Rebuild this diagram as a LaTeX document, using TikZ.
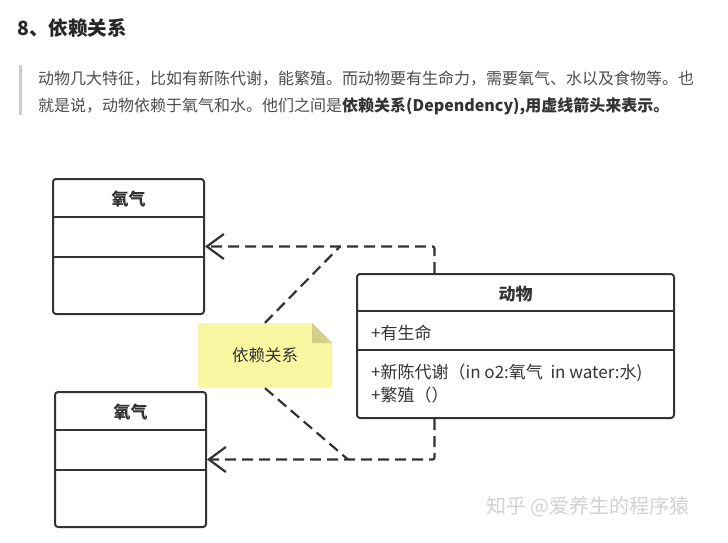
\documentclass[tikz,border=0pt]{standalone}
\usepackage{fontspec}
\setmainfont{Noto Sans CJK SC}
\usetikzlibrary{arrows.meta}
\definecolor{ink}{HTML}{333333}
\definecolor{para}{HTML}{4D4D4D}
\definecolor{notefill}{HTML}{FAF7A2}
\definecolor{notefold}{HTML}{D3CF86}
\tikzset{
  cls/.style={draw=ink, line width=2pt, rounded corners=3pt, inner sep=0pt},
  sep/.style={draw=ink, line width=2pt},
  link/.style={draw=ink, line width=2.2pt, dash pattern=on 11pt off 6pt},
  dep/.style={link, rounded corners=2pt, -{Straight Barb[length=17pt,width=25pt]}},
  txt/.style={text=ink, inner sep=0pt, font=\fontsize{17}{20}\selectfont},
  head/.style={txt, font=\fontsize{17}{20}\selectfont\bfseries},
  para/.style={text=para, inner sep=0pt, anchor=west, font=\fontsize{16}{18}\selectfont},
}
\begin{document}
\begin{tikzpicture}[x=1pt,y=-1pt]
  \useasboundingbox[fill=white] (0,0) rectangle (728,543);
  \node[txt, anchor=west, font=\fontsize{19.5}{22}\selectfont\bfseries, text=black!85] (title) at (17,28) {8、依赖关系};
  \fill[black!20] (19,65) rectangle (22,115);
  \node[para] (line1) at (38,79) {动物几大特征，比如有新陈代谢，能繁殖。而动物要有生命力，需要氧气、水以及食物等。也};
  \node[para] (line2) at (38,106) {就是说，动物依赖于氧气和水。他们之间是\textcolor{ink}{\bfseries 依赖关系(Dependency),用虚线箭头来表示。}};

  \node[cls, minimum width=151pt, minimum height=135pt] (o2a) at (128.5,246.5) {};
  \node[head] (o2a-name) at (128.5,199) {氧气};
  \draw[sep] ([yshift=-39pt]o2a.north west) -- ([yshift=-39pt]o2a.north east);
  \draw[sep] ([yshift=-79pt]o2a.north west) -- ([yshift=-79pt]o2a.north east);

  \node[cls, minimum width=151pt, minimum height=135pt] (o2b) at (130.5,459.5) {};
  \node[head] (o2b-name) at (130.5,412) {氧气};
  \draw[sep] ([yshift=-39pt]o2b.north west) -- ([yshift=-39pt]o2b.north east);
  \draw[sep] ([yshift=-79pt]o2b.north west) -- ([yshift=-79pt]o2b.north east);

  \node[cls, minimum width=317pt, minimum height=144pt] (animal) at (515.5,346) {};
  \node[head] (animal-name) at (515.5,294) {动物};
  \draw[sep] ([yshift=-38pt]animal.north west) -- ([yshift=-38pt]animal.north east);
  \draw[sep] ([yshift=-77pt]animal.north west) -- ([yshift=-77pt]animal.north east);
  \node[txt, anchor=west] (attr) at (371,333) {+有生命};
  \node[txt, anchor=west] (op1) at (371,373) {+新陈代谢（in o2:氧气\ \ in water:水)};
  \node[txt, anchor=west] (op2) at (371,395) {+繁殖（）};

  \node[txt, font=\fontsize{16.5}{19}\selectfont, minimum width=134pt, minimum height=65pt, path picture={
      \fill[notefill] (path picture bounding box.south west) -- (path picture bounding box.north west)
        -- ([xshift=-20pt]path picture bounding box.north east) -- ([yshift=-20pt]path picture bounding box.north east)
        -- (path picture bounding box.south east) -- cycle;
      \fill[notefold] ([xshift=-20pt]path picture bounding box.north east) -- ([xshift=-20pt,yshift=-20pt]path picture bounding box.north east)
        -- ([yshift=-20pt]path picture bounding box.north east) -- cycle;
    }] (note) at (265,355.5) {依赖关系};

  \coordinate (topbend) at (434.5,246.5);
  \coordinate (topjoin) at (340,246.5);
  \coordinate (botbend) at (434.5,459.5);
  \coordinate (botjoin) at (348,459.5);
  \draw[dep] (animal.north -| topbend) -- (topbend) -- (o2a.east);
  \draw[dep] (animal.south -| botbend) -- (botbend) -- (o2b.east);
  \draw[link] (note.north) -- (topjoin);
  \draw[link] (note.south) -- (botjoin);

  \node[txt, text=black!18, font=\fontsize{20}{22}\selectfont] (mark) at (588,507) {知乎 @爱养生的程序猿};
\end{tikzpicture}
\end{document}
